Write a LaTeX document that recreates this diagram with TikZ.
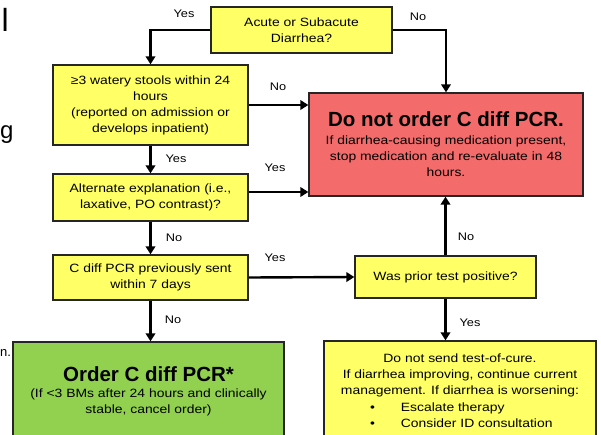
\documentclass[tikz,border=0pt]{standalone}
\usepackage{fontspec}
\setmainfont{Liberation Sans}
\newfontfamily\bodyfont[FakeStretch=1.16]{Liberation Sans}
\usetikzlibrary{arrows.meta}
\definecolor{boxyellow}{HTML}{FFFF66}
\definecolor{boxred}{HTML}{F46B6B}
\definecolor{boxgreen}{HTML}{92D050}
\definecolor{edgegray}{HTML}{262626}
\newcommand{\boxtitle}[1]{{\normalfont\bfseries\fontsize{20.5}{22}\selectfont #1}}
\begin{document}
\begin{tikzpicture}[x=1pt,y=-1pt,
  box/.style={draw=edgegray, line width=1.3pt, align=center, inner sep=2pt,
    font=\bodyfont\fontsize{12}{16}\selectfont},
  ybox/.style={box, fill=boxyellow},
  arr/.style={line width=2.4pt, -{Triangle[length=8pt,width=9.5pt]}},
  lbl/.style={font=\bodyfont\fontsize{11}{14}\selectfont, inner sep=0pt},
  frag/.style={inner sep=0pt},
]
\useasboundingbox (0,0) rectangle (601,434);
\fill[white] (0,0) rectangle (601,434);

% text fragments at the left edge
\node[frag, anchor=base west, font=\fontsize{32}{34}\selectfont] (fragl) at (1.5,31) {l};
\node[frag, anchor=base west, font=\fontsize{24}{28}\selectfont] (fragg) at (0,138) {g};
\node[frag, anchor=base west, font=\fontsize{13}{16}\selectfont] (fragn) at (0,356) {n.};

% boxes
\node[ybox, minimum width=181pt, minimum height=46pt] (top) at (301.5,30)
  {Acute or Subacute\\Diarrhea?};
\node[ybox, minimum width=195pt, minimum height=80pt] (b2) at (150.5,105)
  {≥3 watery stools within 24\\hours\\(reported on admission or\\develops inpatient)};
\node[box, fill=boxred, minimum width=274pt, minimum height=103pt] (red) at (446,144.5)
  {\boxtitle{Do not order C diff PCR.}\\[2pt]
   If diarrhea-causing medication present,\\stop medication and re-evaluate in 48\\hours.};
\node[ybox, minimum width=195pt, minimum height=47pt] (b3) at (150.5,197.5)
  {Alternate explanation (i.e.,\\laxative, PO contrast)?};
\node[ybox, minimum width=195pt, minimum height=45pt] (b4) at (150.5,277.5)
  {C diff PCR previously sent\\within 7 days};
\node[ybox, minimum width=181pt, minimum height=42pt] (prior) at (445.5,277)
  {Was prior test positive?};
\node[ybox, minimum width=272pt, minimum height=99pt, font=\bodyfont\fontsize{12}{16.3}\selectfont] (cure) at (460,390.5)
  {Do not send test-of-cure.\\
   If diarrhea improving, continue current\\
   management. If diarrhea is worsening:\\
   \makebox[230pt][l]{\hspace{25pt}\textbullet\hspace{26pt}Escalate therapy}\\
   \makebox[230pt][l]{\hspace{25pt}\textbullet\hspace{26pt}Consider ID consultation}};
\node[box, fill=boxgreen, minimum width=271pt, minimum height=99pt] (order) at (148.5,391.5)
  {\boxtitle{Order C diff PCR*}\\
   (If <3 BMs after 24 hours and clinically\\stable, cancel order)};

% connectors
\draw[arr] (top.west) -| (b2.north);
\draw[arr] (top.east) -| (red.north);
\draw[arr] (b2.east) -- (b2.east -| red.west);
\draw[arr] (b2.south) -- (b3.north);
\draw[arr] ([yshift=5.5pt]b3.east) -- ([yshift=5.5pt]b3.east -| red.west);
\draw[arr] (b3.south) -- (b4.north);
\draw[arr] (b4.east) -- (prior.west);
\draw[arr] (prior.north) -- (prior.north |- red.south);
\draw[arr] (prior.south) -- (prior.south |- cure.north);
\draw[arr] (b4.south) -- (b4.south |- order.north);

% labels
\node[lbl] (l1) at (184,14) {Yes};
\node[lbl] (l2) at (418,17) {No};
\node[lbl] (l3) at (278,87) {No};
\node[lbl] (l4) at (176,159) {Yes};
\node[lbl] (l5) at (275,168) {Yes};
\node[lbl] (l6) at (174,238) {No};
\node[lbl] (l7) at (275,258) {Yes};
\node[lbl] (l8) at (466,237) {No};
\node[lbl] (l9) at (470,323) {Yes};
\node[lbl] (l10) at (173,320) {No};
\end{tikzpicture}
\end{document}
